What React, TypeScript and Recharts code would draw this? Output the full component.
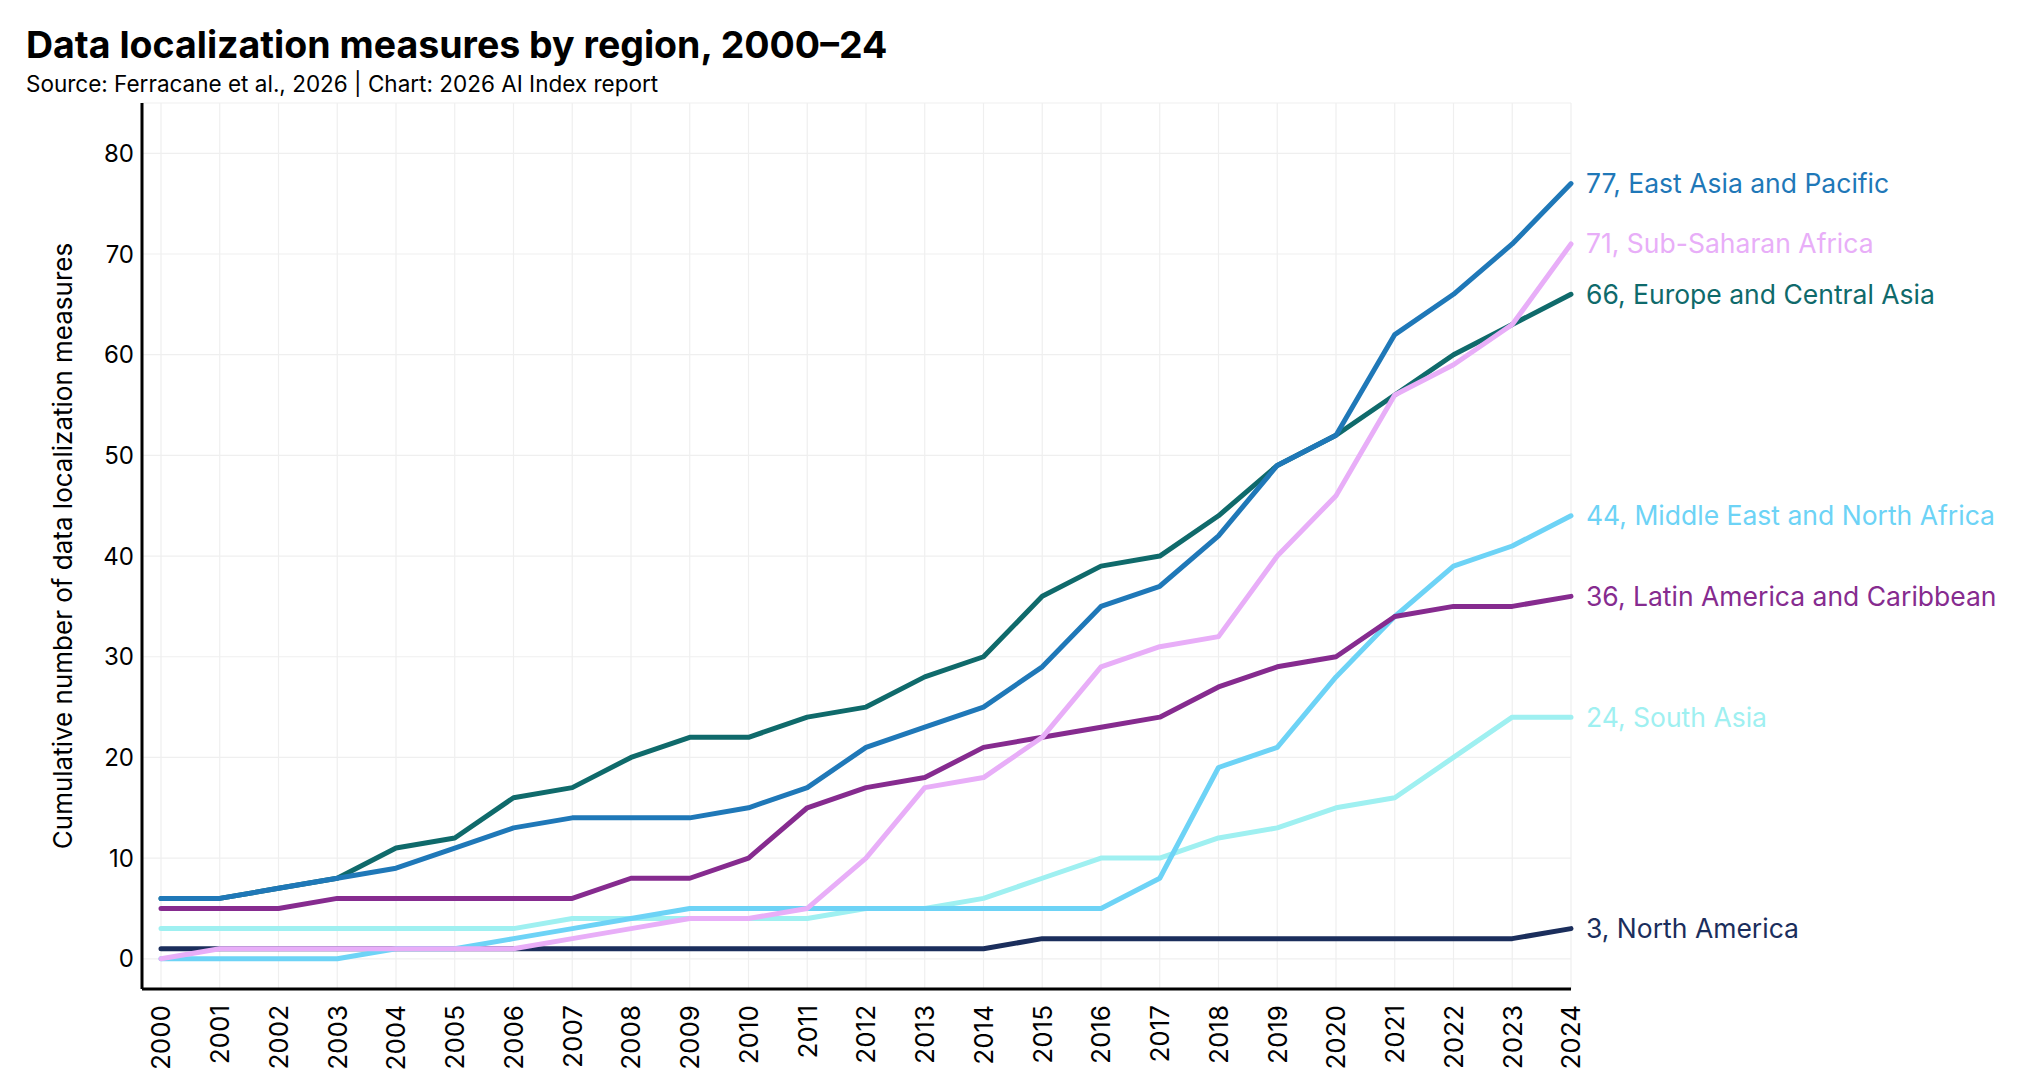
import { LineChart, Line, XAxis, YAxis, CartesianGrid } from "recharts";

const years = [
  "2000", "2001", "2002", "2003", "2004", "2005", "2006", "2007", "2008", "2009", "2010", "2011", "2012",
  "2013", "2014", "2015", "2016", "2017", "2018", "2019", "2020", "2021", "2022", "2023", "2024",
];

const northAmerica = [1, 1, 1, 1, 1, 1, 1, 1, 1, 1, 1, 1, 1, 1, 1, 2, 2, 2, 2, 2, 2, 2, 2, 2, 3];
const europe = [6, 6, 7, 8, 11, 12, 16, 17, 20, 22, 22, 24, 25, 28, 30, 36, 39, 40, 44, 49, 52, 56, 60, 63, 66];
const eastAsia = [6, 6, 7, 8, 9, 11, 13, 14, 14, 14, 15, 17, 21, 23, 25, 29, 35, 37, 42, 49, 52, 62, 66, 71, 77];
const southAsia = [3, 3, 3, 3, 3, 3, 3, 4, 4, 4, 4, 4, 5, 5, 6, 8, 10, 10, 12, 13, 15, 16, 20, 24, 24];
const middleEast = [0, 0, 0, 0, 1, 1, 2, 3, 4, 5, 5, 5, 5, 5, 5, 5, 5, 8, 19, 21, 28, 34, 39, 41, 44];
const latinAmerica = [5, 5, 5, 6, 6, 6, 6, 6, 8, 8, 10, 15, 17, 18, 21, 22, 23, 24, 27, 29, 30, 34, 35, 35, 36];
const subSaharan = [0, 1, 1, 1, 1, 1, 1, 2, 3, 4, 4, 5, 10, 17, 18, 22, 29, 31, 32, 40, 46, 56, 59, 63, 71];

const yTicks = [0, 10, 20, 30, 40, 50, 60, 70, 80];

// drawing order matters: later series sit on top
const series = [
  { key: "northAmerica", name: "North America", color: "#1b2e5c", values: northAmerica },
  { key: "europe", name: "Europe and Central Asia", color: "#0f6a6b", values: europe },
  { key: "eastAsia", name: "East Asia and Pacific", color: "#1f78b8", values: eastAsia },
  { key: "southAsia", name: "South Asia", color: "#9ff0f1", values: southAsia },
  { key: "middleEast", name: "Middle East and North Africa", color: "#6dd3f6", values: middleEast },
  { key: "latinAmerica", name: "Latin America and Caribbean", color: "#862b8f", values: latinAmerica },
  { key: "subSaharan", name: "Sub-Saharan Africa", color: "#e8aef8", values: subSaharan },
];

const data = years.map((year, i) => {
  const row: Record<string, string | number> = { year };
  series.forEach((s) => {
    row[s.key] = s.values[i];
  });
  return row;
});

const FONT = "Inter, 'Noto Sans', sans-serif";

function XTick({ x, y, payload }: any) {
  return (
    <g transform={`translate(${x},${y + 8}) rotate(-90)`}>
      <text x={0} y={0} dy="0.36em" textAnchor="end" fill="#000" fontSize={26} fontFamily={FONT}>
        {payload.value}
      </text>
    </g>
  );
}

const endLabel = (name: string, color: string) => (props: any) => {
  const { index, value } = props;
  if (index !== years.length - 1) return null;
  const x = props.x ?? props.viewBox?.x;
  const y = props.y ?? props.viewBox?.y;
  return (
    <text x={x + 15} y={y} dy="0.36em" fill={color} fontSize={26.5} fontFamily={FONT}>
      {`${value}, ${name}`}
    </text>
  );
};

export default function App() {
  return (
    <div style={{ position: "absolute", left: 0, top: 0, width: 2023, height: 1074, background: "#fff" }}>
      <LineChart width={2023} height={1074} data={data} margin={{ top: 103, right: 452, bottom: 0, left: 0 }}>
        <CartesianGrid stroke="#efefef" strokeWidth={1.2} />
        <XAxis
          dataKey="year"
          scale="point"
          padding={{ left: 19, right: 0 }}
          height={85}
          axisLine={{ stroke: "#000", strokeWidth: 3 }}
          tickLine={false}
          interval={0}
          tick={<XTick />}
        />
        <YAxis
          type="number"
          domain={[-3, 85]}
          ticks={yTicks}
          width={142}
          axisLine={{ stroke: "#000", strokeWidth: 3 }}
          tickLine={false}
          tick={{ fill: "#000", fontSize: 24, fontFamily: FONT }}
        />
        {series.map((s) => (
          <Line
            key={s.key}
            dataKey={s.key}
            stroke={s.color}
            strokeWidth={5}
            strokeLinecap="round"
            strokeLinejoin="round"
            dot={false}
            activeDot={false}
            isAnimationActive={false}
            label={endLabel(s.name, s.color)}
          />
        ))}
      </LineChart>
      <svg
        width={2023}
        height={1074}
        style={{ position: "absolute", left: 0, top: 0, pointerEvents: "none" }}
      >
        <text x={26} y={58} fontSize={37.5} fontWeight={700} fontFamily={FONT} fill="#000">
          Data localization measures by region, 2000–24
        </text>
        <text x={26} y={92} fontSize={22.5} fontFamily={FONT} fill="#000">
          Source: Ferracane et al., 2026 | Chart: 2026 AI Index report
        </text>
        <text
          x={63}
          y={546}
          dy="0.36em"
          transform="rotate(-90 63 546)"
          textAnchor="middle"
          fontSize={26}
          fontFamily={FONT}
          fill="#000"
        >
          Cumulative number of data localization measures
        </text>
      </svg>
    </div>
  );
}
